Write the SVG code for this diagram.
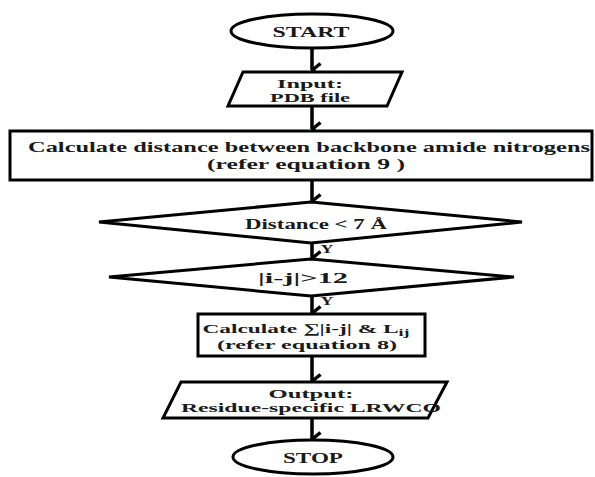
<svg xmlns="http://www.w3.org/2000/svg" width="595" height="477" viewBox="0 0 595 477">
<defs>
<style>
.s{fill:#fff;stroke:#000;stroke-width:3}
.d{fill:#fff;stroke:#000;stroke-width:3}
.t{font-family:'Liberation Serif','DejaVu Serif','Times New Roman',serif;font-weight:bold;font-size:15px;fill:#1a1a1a;text-anchor:middle}
.m{font-size:13px}
.c{stroke:#000;stroke-width:3.5;fill:none}
</style>
<marker id="ah" viewBox="0 0 16 12" refX="8" refY="10.5" markerWidth="16" markerHeight="12" markerUnits="userSpaceOnUse" orient="auto">
<path d="M1.5,2 L8,10 L14.5,2" fill="none" stroke="#000" stroke-width="3.5"/>
</marker>
</defs>
<g id="connectors">
<path class="c" d="M312,49 V70" marker-end="url(#ah)"/>
<path class="c" d="M312,106 V129" marker-end="url(#ah)"/>
<path class="c" d="M312,181 V201" marker-end="url(#ah)"/>
<path class="c" d="M312,243 V258" marker-end="url(#ah)"/>
<path class="c" d="M312,297 V313" marker-end="url(#ah)"/>
<path class="c" d="M312,357 V381" marker-end="url(#ah)"/>
<path class="c" d="M312,419 V439" marker-end="url(#ah)"/>
<text class="t m" x="327" y="253" textLength="13" lengthAdjust="spacingAndGlyphs">Y</text>
<text class="t m" x="327" y="305" textLength="13" lengthAdjust="spacingAndGlyphs">Y</text>
</g>
<g id="start">
<ellipse class="s" cx="312" cy="31" rx="81" ry="17"/>
<text class="t" x="311" y="37" textLength="77" lengthAdjust="spacingAndGlyphs">START</text>
</g>
<g id="input">
<polygon class="s" points="243,72 402,72 387,106 228,106"/>
<text class="t m" x="310" y="88" textLength="66" lengthAdjust="spacingAndGlyphs">Input:</text>
<text class="t m" x="310" y="102" textLength="80" lengthAdjust="spacingAndGlyphs">PDB file</text>
</g>
<g id="calc-distance">
<rect class="s" x="10" y="131" width="582" height="49"/>
<text class="t" x="309" y="152" textLength="562" lengthAdjust="spacingAndGlyphs">Calculate distance between backbone amide nitrogens</text>
<text class="t" x="306" y="169" textLength="198" lengthAdjust="spacingAndGlyphs">(refer equation 9 )</text>
</g>
<g id="distance-check">
<polygon class="d" points="311,202 522,222 311,243 99,222"/>
<text class="t" x="316" y="229" textLength="142" lengthAdjust="spacingAndGlyphs">Distance &lt; 7 Å</text>
</g>
<g id="ij-check">
<polygon class="d" points="311,259 514,277 311,296 109,277"/>
<text class="t" x="303" y="283" textLength="90" lengthAdjust="spacingAndGlyphs">|i-j|&gt;12</text>
</g>
<g id="calc-sum">
<rect class="s" x="198" y="314" width="227" height="42"/>
<text class="t m" x="306" y="333" textLength="207" lengthAdjust="spacingAndGlyphs">Calculate ∑|i-j| &amp; L<tspan dy="3" style="font-size:10px">ij</tspan></text>
<text class="t m" x="307" y="349" textLength="180" lengthAdjust="spacingAndGlyphs">(refer equation 8)</text>
</g>
<g id="output">
<polygon class="s" points="181,382 447,382 428,418 163,418"/>
<text class="t m" x="311" y="398" textLength="85" lengthAdjust="spacingAndGlyphs">Output:</text>
<text class="t m" x="311" y="412" textLength="260" lengthAdjust="spacingAndGlyphs">Residue-specific LRWCO</text>
</g>
<g id="stop">
<ellipse class="s" cx="313" cy="457" rx="80" ry="17"/>
<text class="t" x="313" y="463" textLength="60" lengthAdjust="spacingAndGlyphs">STOP</text>
</g>
</svg>
